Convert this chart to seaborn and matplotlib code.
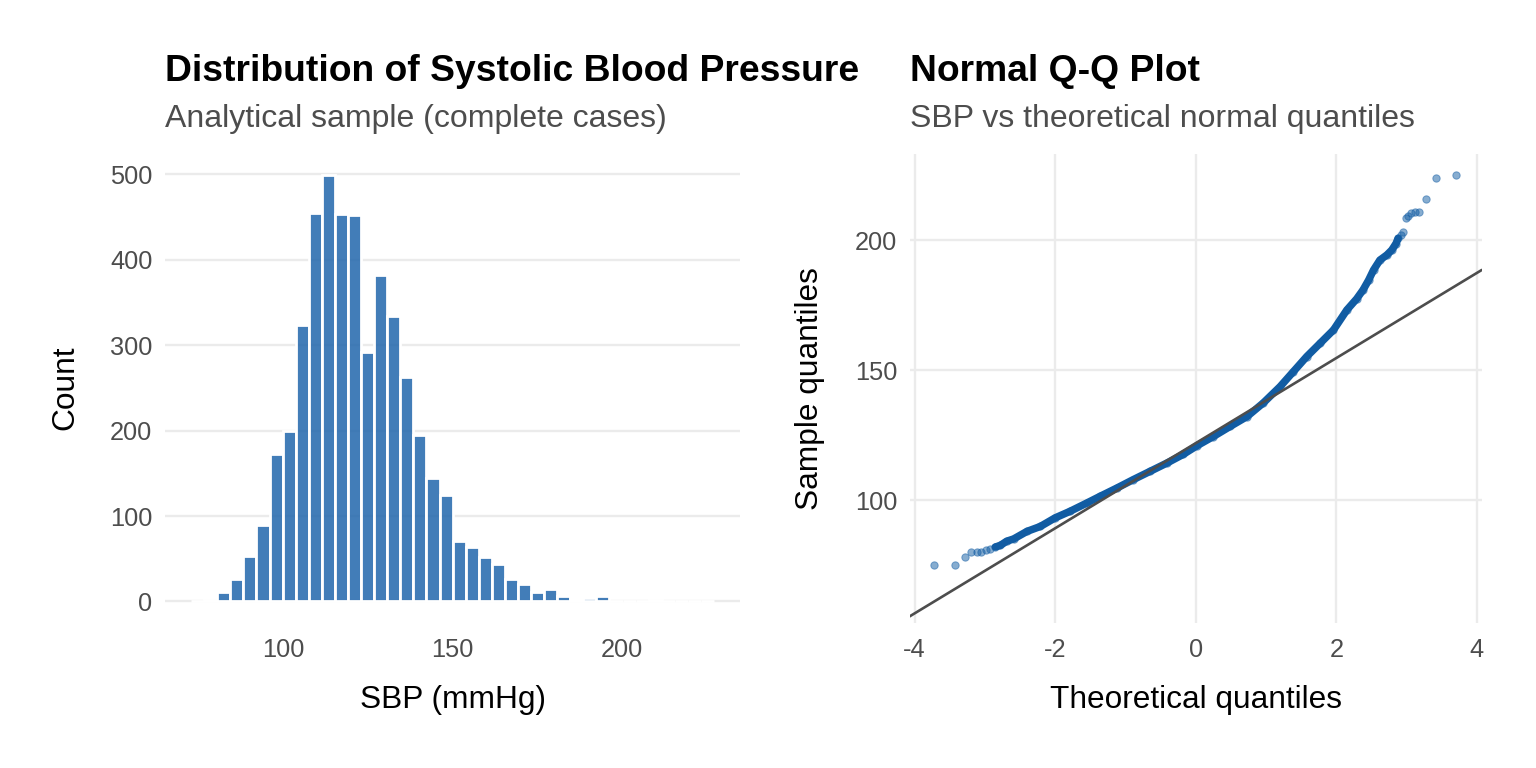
import numpy as np
import pandas as pd
import seaborn as sns
import matplotlib
matplotlib.use("Agg")
import matplotlib.pyplot as plt

# histogram of SBP: 40 bins, counts
bin_start = 72.8
bin_width = 3.86
hist_counts = [1, 2, 11, 26, 53, 89, 173, 200, 323, 455,
               499, 453, 452, 292, 382, 334, 263, 195, 144, 124,
               71, 64, 52, 44, 26, 20, 11, 15, 6, 3,
               4, 6, 0, 0, 1, 2, 1, 0, 1, 1]

# Q-Q points (theoretical quantile, sample SBP)
qq_theoretical = [-3.72, -3.42, -3.28, -3.20, -3.11, -3.05, -2.98, -2.93, -2.85, -2.78,
                  -2.69, -2.59, -2.40, -2.21, -2.00, -1.79, -1.55, -1.36, -1.12, -0.89,
                  -0.65, -0.41, -0.18, 0.02, 0.25, 0.49, 0.73, 0.96, 1.20, 1.39,
                  1.58, 1.77, 1.96, 2.15, 2.29, 2.38, 2.46, 2.53, 2.62, 2.72,
                  2.79, 2.85, 2.88, 2.92, 2.95, 2.99, 3.02, 3.07, 3.12, 3.18,
                  3.28, 3.42, 3.71]
qq_sample = [74.9, 74.9, 78.0, 79.9, 79.9, 79.9, 81.0, 81.2, 82.0, 82.6,
             84.2, 85.1, 88.0, 89.9, 93.2, 95.7, 98.9, 101.5, 104.7, 107.9,
             111.1, 114.3, 117.6, 121.0, 124.5, 128.4, 132.2, 137.4, 143.7, 149.5,
             155.3, 160.4, 165.5, 173.2, 177.5, 180.9, 184.7, 188.6, 192.4, 194.4,
             196.3, 198.8, 200.8, 202.0, 203.2, 208.7, 209.5, 210.4, 211.0, 211.0,
             215.9, 223.9, 225.0]
# reference line
qq_intercept = 121.95
qq_slope = 16.38

hist_color = "#2166AC"
qq_color = "#115CA3"
grid_color = "#EBEBEB"
text_grey = "#4D4D4D"

sns.set_style("white")
plt.rcParams['font.family'] = ['Liberation Sans', 'DejaVu Sans']
plt.rcParams['axes.unicode_minus'] = False

edges = [bin_start + bin_width * i for i in range(len(hist_counts) + 1)]
hist_df = pd.DataFrame({"sbp": [e + bin_width / 2 for e in edges[:-1]], "count": hist_counts})
qq_df = pd.DataFrame({"theoretical": qq_theoretical, "sample": qq_sample})

fig = plt.figure(figsize=(15.36, 7.68), dpi=100)
ax1 = fig.add_axes([0.1074, 0.189, 0.3745, 0.611])
ax2 = fig.add_axes([0.5922, 0.189, 0.3725, 0.611])

# left panel: histogram
sns.histplot(data=hist_df, x="sbp", weights="count", bins=edges, color=hist_color,
             alpha=0.85, edgecolor="white", linewidth=2.0, ax=ax1)
ax1.set_xlim(65.08, 234.92)
ax1.set_ylim(-25, 524)
ax1.set_xticks([100, 150, 200])
ax1.set_yticks([0, 100, 200, 300, 400, 500])
ax1.yaxis.grid(True, color=grid_color, linewidth=1.7)
ax1.xaxis.grid(False)

# right panel: normal Q-Q (dense middle drawn as a thick band of points)
dense = qq_df[(qq_df["theoretical"] > -2.9) & (qq_df["theoretical"] < 2.9)]
sns.lineplot(data=dense, x="theoretical", y="sample", color=qq_color, linewidth=5.4,
             sort=True, ax=ax2, zorder=2)
sns.scatterplot(data=qq_df, x="theoretical", y="sample", color=qq_color, alpha=0.5,
                s=28, edgecolor=qq_color, linewidth=0.7, ax=ax2, zorder=3)
ax2.axline((0, qq_intercept), slope=qq_slope, color="#4D4D4D", linewidth=1.9, zorder=4)
ax2.set_xlim(-4.07, 4.07)
ax2.set_ylim(52.8, 233.4)
ax2.set_xticks([-4, -2, 0, 2, 4])
ax2.set_yticks([100, 150, 200])
ax2.grid(True, color=grid_color, linewidth=1.7)

titles = [("Distribution of Systolic Blood Pressure", "Analytical sample (complete cases)"),
          ("Normal Q-Q Plot", "SBP vs theoretical normal quantiles")]
xlabels = ["SBP (mmHg)", "Theoretical quantiles"]
ylabels = ["Count", "Sample quantiles"]

for ax, (title, subtitle), xl, yl in zip([ax1, ax2], titles, xlabels, ylabels):
    ax.set_axisbelow(True)
    for s in ax.spines.values():
        s.set_visible(False)
    ax.tick_params(length=0, labelsize=18.3, labelcolor=text_grey)
    ax.tick_params(axis="x", pad=11)
    ax.tick_params(axis="y", pad=9)
    ax.set_xlabel(xl, fontsize=22.8, color="black")
    ax.set_ylabel(yl, fontsize=22.8, color="black")
    ax.xaxis.set_label_coords(0.5, -0.165)
    ax.xaxis.label.set_va("center")
    ax.yaxis.set_label_coords(-0.174, 0.5)
    ax.yaxis.label.set_va("center")
    ax.text(0, 1.154, title, transform=ax.transAxes, ha="left", va="baseline",
            fontsize=26.8, fontweight="bold", color="black")
    ax.text(0, 1.056, subtitle, transform=ax.transAxes, ha="left", va="baseline",
            fontsize=23.0, color=text_grey)

fig.savefig("out.png", dpi=100, facecolor="white")
